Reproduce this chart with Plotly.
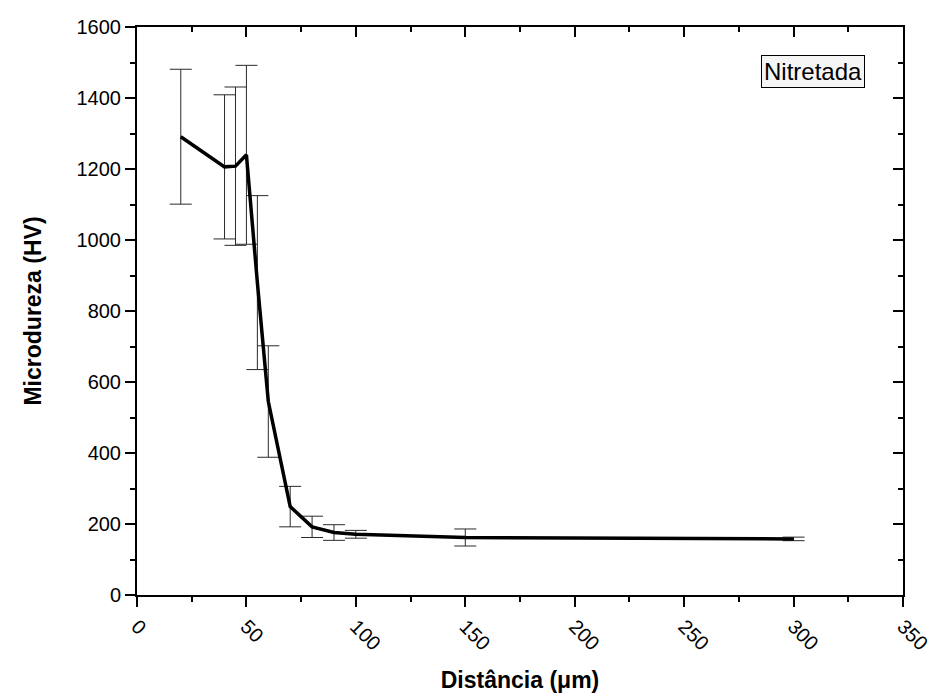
import plotly.graph_objects as go

distancia = [20, 40, 45, 50, 55, 60, 70, 80, 90, 100, 150, 300]
microdureza = [1291, 1206, 1208, 1240, 880, 545, 249, 192, 176, 171, 162, 158]
erro = [190, 203, 223, 252, 245, 157, 57, 30, 22, 11, 24, 5]

x_ticks = [0, 50, 100, 150, 200, 250, 300, 350]
y_ticks = [0, 200, 400, 600, 800, 1000, 1200, 1400, 1600]

FONT = "Arial, Liberation Sans, sans-serif"

fig = go.Figure()
fig.add_trace(go.Scatter(
    x=distancia, y=microdureza, mode="markers",
    marker=dict(size=1, color="rgba(0,0,0,0)"),
    error_y=dict(type="data", array=erro, visible=True, color="#2a2a2a",
                 thickness=1, width=11),
    showlegend=False, hoverinfo="skip"))
fig.add_trace(go.Scatter(
    x=distancia, y=microdureza, mode="lines",
    line=dict(color="black", width=3.5), name="Nitretada", showlegend=False))

# invisible trace to activate top/right mirror axes
fig.add_trace(go.Scatter(x=[0], y=[0], xaxis="x2", yaxis="y2", mode="markers",
                         marker=dict(opacity=0), showlegend=False, hoverinfo="skip"))

axis_common = dict(showgrid=False, zeroline=False, showline=True, linecolor="black",
                   linewidth=2, tickcolor="black", tickwidth=2, ticklen=10,
                   automargin=False)

fig.update_layout(
    width=935, height=697,
    margin=dict(l=137, r=32, t=27, b=102),
    paper_bgcolor="white", plot_bgcolor="white",
    font=dict(family=FONT, color="black"),
    xaxis=dict(range=[0, 350], tickvals=x_ticks, ticktext=[str(v) for v in x_ticks],
               ticks="outside", tickangle=45, tickfont=dict(size=20),
               minor=dict(ticks="outside", ticklen=5, tickwidth=2, tickcolor="black", dtick=25),
               title=dict(text="<b>Distância (μm)</b>", font=dict(size=23), standoff=18),
               **axis_common),
    yaxis=dict(range=[0, 1600], tickvals=y_ticks, ticktext=[str(v) for v in y_ticks],
               ticks="outside", tickfont=dict(size=20),
               minor=dict(ticks="outside", ticklen=5, tickwidth=2, tickcolor="black", dtick=100),
               title=dict(text="<b>Microdureza (HV)</b>", font=dict(size=23), standoff=28),
               **axis_common),
    xaxis2=dict(range=[0, 350], overlaying="x", side="top", tickvals=x_ticks,
                showticklabels=False, ticks="inside",
                minor=dict(ticks="inside", ticklen=5, tickwidth=2, tickcolor="black", dtick=25),
                **axis_common),
    yaxis2=dict(range=[0, 1600], overlaying="y", side="right", tickvals=y_ticks,
                showticklabels=False, ticks="inside",
                minor=dict(ticks="inside", ticklen=5, tickwidth=2, tickcolor="black", dtick=100),
                **axis_common),
    annotations=[dict(text="Nitretada", xref="paper", yref="paper", x=0.882, y=0.9225,
                      xanchor="center", yanchor="middle", showarrow=False,
                      font=dict(size=24, family=FONT, color="black"),
                      bgcolor="#f5f5f5", bordercolor="black", borderwidth=1, borderpad=2)],
)

fig.write_html("out.html")
